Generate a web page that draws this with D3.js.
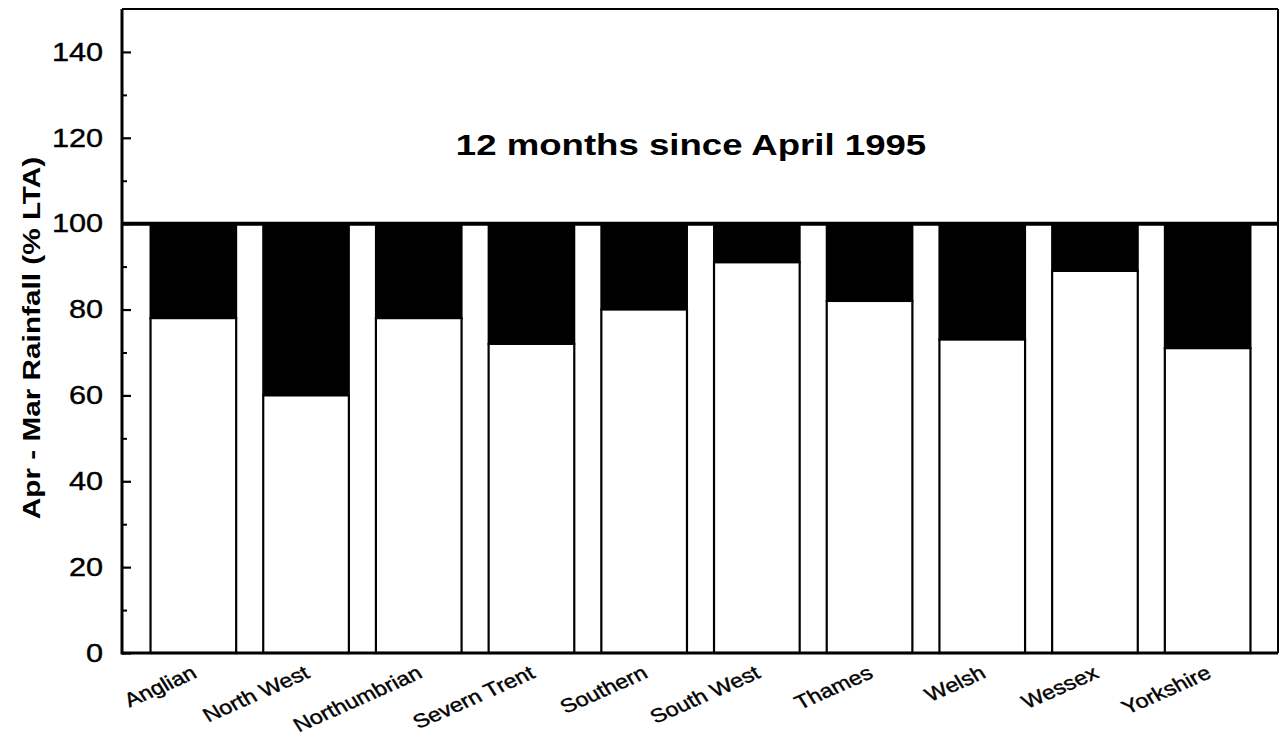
<!DOCTYPE html>
<html>
<head>
<meta charset="utf-8">
<script src="https://cdn.jsdelivr.net/npm/d3@7"></script>
<style>
  body { margin: 0; background: #fff; }
  svg { display: block; font-family: "Liberation Sans", Arial, sans-serif; }
</style>
</head>
<body>
<div id="app"></div>
<script>
// Apr - Mar rainfall as % of long term average, by water region
const regions = ["Anglian", "North West", "Northumbrian", "Severn Trent", "Southern",
                 "South West", "Thames", "Welsh", "Wessex", "Yorkshire"];
const rainfall = [78, 60, 78, 72, 80, 91, 82, 73, 89, 71];
const majorTicks = [0, 20, 40, 60, 80, 100, 120, 140];
const minorTicks = [10, 30, 50, 70, 90, 110, 130];
const reference = 100;

(function () {
  var W = 1280, H = 740,
      plotLeft = 122, plotRight = 1278, plotTop = 9, plotBottom = 653;

  var svg = d3.select("#app").append("svg")
      .attr("width", W)
      .attr("height", H);

  var y = d3.scaleLinear()
      .domain([0, 150])
      .range([plotBottom, plotTop]);

  var x = d3.scaleBand()
      .domain(regions)
      .range([137, 1264])
      .paddingInner(0.24)
      .paddingOuter(0.12);

  // black deficit part, from value up to 100
  svg.append("g").selectAll("rect.deficit")
      .data(rainfall)
    .enter().append("rect")
      .attr("class", "deficit")
      .attr("x", (d, i) => x(regions[i]))
      .attr("width", x.bandwidth())
      .attr("y", y(reference))
      .attr("height", d => y(d) - y(reference))
      .attr("fill", "#000")
      .attr("stroke", "#000")
      .attr("stroke-width", 2);

  // white part, 0 to value
  svg.append("g").selectAll("rect.value")
      .data(rainfall)
    .enter().append("rect")
      .attr("class", "value")
      .attr("x", (d, i) => x(regions[i]))
      .attr("width", x.bandwidth())
      .attr("y", d => y(d))
      .attr("height", d => y(0) - y(d))
      .attr("fill", "#fff")
      .attr("stroke", "#000")
      .attr("stroke-width", 2.2);

  // 100% line
  svg.append("line")
      .attr("x1", plotLeft).attr("x2", plotRight)
      .attr("y1", y(reference)).attr("y2", y(reference))
      .attr("stroke", "#000")
      .attr("stroke-width", 4);

  // frame
  svg.append("line").attr("x1", plotLeft).attr("x2", plotRight).attr("y1", plotTop).attr("y2", plotTop)
      .attr("stroke", "#000").attr("stroke-width", 2);
  svg.append("line").attr("x1", plotRight).attr("x2", plotRight).attr("y1", plotTop).attr("y2", plotBottom)
      .attr("stroke", "#000").attr("stroke-width", 2);

  // y axis, ticks pointing inwards
  var yAxis = svg.append("g")
      .attr("transform", "translate(" + plotLeft + ",0)")
      .call(d3.axisLeft(y)
          .tickValues(majorTicks)
          .tickSize(-9)
          .tickPadding(16));
  yAxis.attr("font-family", null).attr("font-size", null);
  yAxis.select(".domain").remove();
  yAxis.selectAll("line").attr("stroke-width", 2.2);
  yAxis.selectAll("text")
      .attr("font-size", 26)
      .attr("fill", "#000")
      .attr("stroke", "#000")
      .attr("stroke-width", 0.4)
      .attr("transform", "scale(1.18,1)");

  var yMinor = svg.append("g")
      .attr("transform", "translate(" + plotLeft + ",0)")
      .call(d3.axisLeft(y)
          .tickValues(minorTicks)
          .tickSize(-5)
          .tickFormat(() => ""));
  yMinor.select(".domain").remove();
  yMinor.selectAll("line").attr("stroke-width", 2);

  // x axis labels, slanted
  var xAxis = svg.append("g")
      .attr("transform", "translate(0," + plotBottom + ")")
      .call(d3.axisBottom(x).tickSize(0));
  xAxis.attr("font-family", null).attr("font-size", null);
  xAxis.select(".domain").remove();
  xAxis.selectAll("text")
      .attr("y", null)
      .attr("dy", null)
      .attr("font-size", 19.5)
      .attr("fill", "#000")
      .attr("stroke", "#000")
      .attr("stroke-width", 0.4)
      .attr("text-anchor", "end")
      .attr("transform", "translate(5,24) scale(1.2,1) rotate(-28)");

  // thick left and bottom axis lines
  svg.append("line").attr("x1", plotLeft).attr("x2", plotLeft).attr("y1", plotTop).attr("y2", plotBottom + 1.5)
      .attr("stroke", "#000").attr("stroke-width", 3);
  svg.append("line").attr("x1", plotLeft).attr("x2", plotRight).attr("y1", plotBottom).attr("y2", plotBottom)
      .attr("stroke", "#000").attr("stroke-width", 3);

  // title
  svg.append("text")
      .attr("transform", "translate(691,155) scale(1.22,1)")
      .attr("text-anchor", "middle")
      .attr("font-size", 30)
      .attr("font-weight", "bold")
      .text("12 months since April 1995");

  // y label
  svg.append("text")
      .attr("transform", "translate(40,338) rotate(-90) scale(1.24,1)")
      .attr("text-anchor", "middle")
      .attr("font-size", 24)
      .attr("font-weight", "bold")
      .text("Apr - Mar Rainfall (% LTA)");
})();
</script>
</body>
</html>
